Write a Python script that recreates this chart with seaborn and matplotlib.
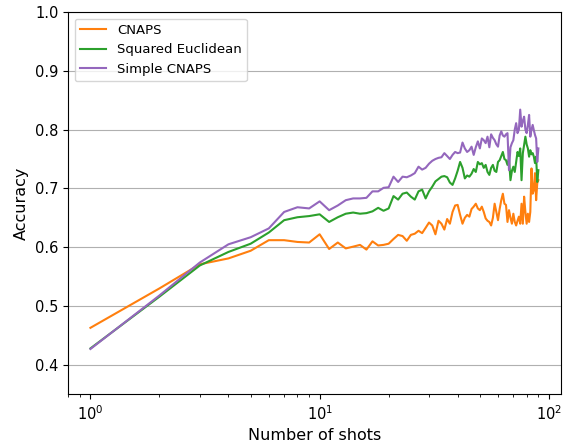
import pandas as pd
import matplotlib
matplotlib.use("Agg")
import matplotlib.pyplot as plt
import seaborn as sns

# Accuracy vs number of shots
shots = list(range(1, 91))

cnaps = [0.463, 0.530, 0.571, 0.581, 0.594, 0.612, 0.612, 0.609, 0.608, 0.622,
         0.597, 0.608, 0.598, 0.601, 0.604, 0.596, 0.610, 0.603, 0.604, 0.606,
         0.614, 0.621, 0.619, 0.611, 0.621, 0.623, 0.628, 0.624, 0.633, 0.642,
         0.637, 0.622, 0.645, 0.640, 0.630, 0.648, 0.640, 0.660, 0.671, 0.672,
         0.655, 0.640, 0.650, 0.655, 0.652, 0.665, 0.669, 0.674, 0.666, 0.663,
         0.669, 0.660, 0.649, 0.645, 0.643, 0.637, 0.650, 0.674, 0.660, 0.646,
         0.665, 0.680, 0.691, 0.674, 0.672, 0.643, 0.663, 0.650, 0.640, 0.657,
         0.643, 0.637, 0.645, 0.652, 0.640, 0.674, 0.640, 0.686, 0.660, 0.640,
         0.657, 0.643, 0.660, 0.734, 0.691, 0.697, 0.726, 0.680, 0.709, 0.714]

sq_euclid = [0.428, 0.516, 0.569, 0.592, 0.606, 0.625, 0.646, 0.651, 0.653, 0.656,
             0.643, 0.651, 0.657, 0.659, 0.657, 0.658, 0.661, 0.667, 0.662, 0.666,
             0.687, 0.681, 0.691, 0.693, 0.686, 0.681, 0.695, 0.698, 0.683, 0.695,
             0.703, 0.712, 0.716, 0.720, 0.721, 0.719, 0.710, 0.706, 0.717, 0.730,
             0.745, 0.735, 0.717, 0.722, 0.720, 0.725, 0.733, 0.728, 0.745, 0.741,
             0.743, 0.735, 0.740, 0.728, 0.723, 0.735, 0.740, 0.730, 0.728, 0.745,
             0.748, 0.755, 0.762, 0.750, 0.748, 0.740, 0.751, 0.714, 0.730, 0.737,
             0.728, 0.745, 0.762, 0.755, 0.768, 0.714, 0.760, 0.774, 0.788, 0.775,
             0.768, 0.754, 0.765, 0.758, 0.760, 0.754, 0.743, 0.754, 0.711, 0.731]

simple_cnaps = [0.427, 0.518, 0.574, 0.605, 0.617, 0.632, 0.660, 0.668, 0.666, 0.678,
                0.663, 0.671, 0.680, 0.683, 0.683, 0.684, 0.695, 0.695, 0.701, 0.702,
                0.720, 0.711, 0.720, 0.719, 0.722, 0.726, 0.737, 0.732, 0.735, 0.742,
                0.747, 0.750, 0.752, 0.753, 0.760, 0.755, 0.750, 0.757, 0.762, 0.760,
                0.761, 0.778, 0.768, 0.762, 0.765, 0.771, 0.757, 0.770, 0.780, 0.768,
                0.785, 0.782, 0.777, 0.788, 0.770, 0.792, 0.786, 0.782, 0.775, 0.771,
                0.790, 0.797, 0.790, 0.788, 0.792, 0.794, 0.731, 0.770, 0.777, 0.782,
                0.800, 0.811, 0.794, 0.800, 0.834, 0.805, 0.815, 0.822, 0.800, 0.794,
                0.808, 0.825, 0.788, 0.800, 0.808, 0.799, 0.791, 0.785, 0.745, 0.768]

methods = ["CNAPS", "Squared Euclidean", "Simple CNAPS"]
colors = ["tab:orange", "tab:green", "tab:purple"]

# long format for seaborn
df = pd.concat([
    pd.DataFrame({"shots": shots, "accuracy": vals, "method": name})
    for name, vals in zip(methods, [cnaps, sq_euclid, simple_cnaps])
])

fig, ax = plt.subplots(figsize=(5.67, 4.44), dpi=100)
fig.subplots_adjust(left=0.12, right=0.989, bottom=0.112, top=0.973)

sns.lineplot(data=df, x="shots", y="accuracy", hue="method", hue_order=methods,
             palette=dict(zip(methods, colors)), linewidth=1.5, ax=ax)

ax.set_xscale("log")
ax.set_ylim(0.35, 1.0)
ax.yaxis.grid(True, color="#b0b0b0", linewidth=0.8)
ax.set_axisbelow(True)
ax.tick_params(labelsize=10.5)
ax.set_xlabel("Number of shots", fontsize=11.5)
ax.set_ylabel("Accuracy", fontsize=11.5)
ax.legend(loc="upper left", fontsize=9.5)

fig.savefig("out.png", dpi=100)
